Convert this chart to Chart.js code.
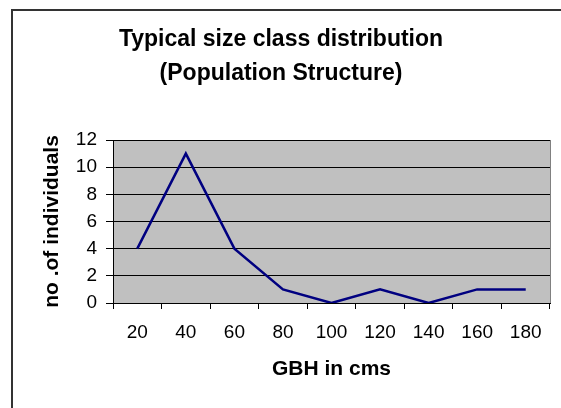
<!DOCTYPE html>
<html>
<head>
<meta charset="utf-8">
<script src="https://cdn.jsdelivr.net/npm/chart.js@4"></script>
<style>
  html, body { margin: 0; padding: 0; background: #fff; }
  #wrap { width: 561px; height: 408px; position: relative; }
</style>
</head>
<body>
<div id="wrap"><canvas id="sizeChart"></canvas></div>
<script>
const gbhClasses = ['20', '40', '60', '80', '100', '120', '140', '160', '180'];
const individuals = [4, 11, 4, 1, 0, 1, 0, 1, 1];
const yTicks = [0, 2, 4, 6, 8, 10, 12];

const FONT = "'Liberation Sans', Arial, sans-serif";

// grey plot area + outer frame, excel style
const plotBg = {
  id: 'plotBg',
  beforeDraw(chart) {
    const { ctx, chartArea: a } = chart;
    ctx.save();
    ctx.fillStyle = '#c0c0c0';
    ctx.fillRect(a.left, a.top, a.right - a.left, a.bottom - a.top);
    ctx.strokeStyle = '#808080';
    ctx.lineWidth = 1;
    ctx.beginPath();
    ctx.moveTo(a.right + 0.5, a.top);
    ctx.lineTo(a.right + 0.5, a.bottom);
    ctx.stroke();
    // chart border (only top and left visible)
    ctx.strokeStyle = '#333';
    ctx.lineWidth = 2;
    ctx.beginPath();
    ctx.moveTo(12, 420);
    ctx.lineTo(12, 10);
    ctx.lineTo(570, 10);
    ctx.stroke();
    ctx.restore();
  }
};

const ctx = document.getElementById('sizeChart').getContext('2d');
const sizeChart = new Chart(ctx, {
  type: 'line',
  data: {
    labels: gbhClasses,
    datasets: [{
      data: individuals,
      borderColor: '#000080',
      borderWidth: 2.5,
      pointRadius: 0,
      tension: 0,
      fill: false
    }]
  },
  options: {
    responsive: true,
    maintainAspectRatio: false,
    animation: false,
    layout: { padding: { left: 12, right: 11, top: 0, bottom: 26 } },
    plugins: {
      legend: { display: false },
      tooltip: { enabled: false },
      title: {
        display: true,
        text: ['Typical size class distribution', '(Population Structure)'],
        color: '#000',
        font: { family: FONT, size: 23, weight: 'bold', lineHeight: 34.5 / 23 },
        padding: { top: 22, bottom: 49 }
      }
    },
    scales: {
      x: {
        offset: true,
        grid: { display: true, offset: true, drawOnChartArea: false, color: '#000', tickLength: 6 },
        border: { color: '#000', width: 1 },
        ticks: { color: '#000', font: { family: FONT, size: 19 }, padding: 12, maxRotation: 0 },
        title: {
          display: true,
          text: 'GBH in cms',
          color: '#000',
          font: { family: FONT, size: 21, weight: 'bold' },
          padding: 0
        },
        afterFit(s) { s.height = 79; }
      },
      y: {
        min: 0,
        max: 12,
        afterBuildTicks(s) { s.ticks = yTicks.map(v => ({ value: v })); },
        grid: { color: '#000', tickLength: 7 },
        border: { color: '#000', width: 1 },
        ticks: { color: '#000', font: { family: FONT, size: 19 }, padding: 9 },
        title: {
          display: true,
          text: 'no .of individuals',
          color: '#000',
          font: { family: FONT, size: 21, weight: 'bold' },
          padding: { top: 28, bottom: 0 }
        },
        afterFit(s) { s.width = 101; }
      }
    }
  },
  plugins: [plotBg]
});
</script>
</body>
</html>
